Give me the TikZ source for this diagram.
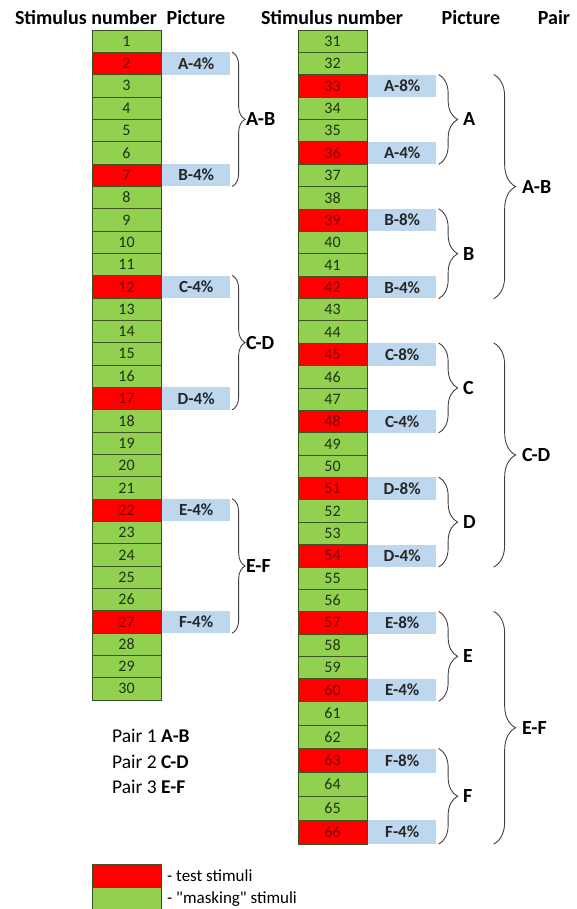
\documentclass[tikz,border=0pt]{standalone}
\usepackage{fontspec}
\setmainfont{Carlito}
\usetikzlibrary{decorations.pathreplacing}
\definecolor{cgreen}{HTML}{92D050}
\definecolor{cred}{HTML}{FF0000}
\definecolor{cblue}{HTML}{BDD7EE}
\definecolor{cline}{HTML}{3A5522}
\definecolor{tgreen}{HTML}{1F3312}
\definecolor{tred}{HTML}{7A0000}
\definecolor{bracec}{HTML}{404040}
\tikzset{
  cell/.style={draw=cline, line width=0.7pt, minimum width=69pt, inner sep=0pt, font=\fontsize{16}{16}\selectfont},
  greencell/.style={fill=cgreen, text=tgreen},
  redcell/.style={fill=cred, text=tred},
  pbox/.style={fill=cblue, minimum width=68.5pt, inner sep=0pt, anchor=west, font=\fontsize{17}{17}\selectfont\bfseries, text=black!85},
  hdr/.style={font=\fontsize{20}{20}\selectfont\bfseries, inner sep=0pt},
  brc/.style={draw=bracec, line width=0.9pt, decorate},
  blabel/.style={font=\fontsize{20}{20}\selectfont\bfseries, inner sep=0pt, anchor=west},
  plain/.style={font=\fontsize{19.5}{19.5}\selectfont, inner sep=0pt, anchor=west},
  legtxt/.style={font=\fontsize{17}{17}\selectfont, inner sep=0pt, anchor=west},
}
\begin{document}
\begin{tikzpicture}[x=1pt,y=-1pt]
\useasboundingbox (0,0) rectangle (577,909);
% headers
\node[hdr] (h1) at (86,18) {Stimulus number};
\node[hdr] (h2) at (196,18) {Picture};
\node[hdr] (h3) at (332,18) {Stimulus number};
\node[hdr] (h4) at (471,18) {Picture};
\node[hdr] (h5) at (554,18) {Pair};
% left column
\foreach \k in {1,...,30} {
  \pgfmathsetmacro\yc{30+(\k-0.5)*22.333}
  \pgfmathtruncatemacro\m{mod(\k+3,5)}
  \ifnum\m=0
    \node[cell, redcell, minimum height=22.333pt] (L\k) at (126.5,\yc) {\k};
  \else
    \node[cell, greencell, minimum height=22.333pt] (L\k) at (126.5,\yc) {\k};
  \fi
}
\foreach \k/\t in {2/A,7/B,12/C,17/D,22/E,27/F}
  \node[pbox, minimum height=22.333pt] (P\k) at ([xshift=0.4pt]L\k.east) {\t-4\%};
% right column
\foreach \n in {31,...,66} {
  \pgfmathsetmacro\j{\n-30}
  \pgfmathsetmacro\yc{ifthenelse(\j<=30, 30+(\j-0.5)*22.37, 701.1+(\j-30.5)*23.8)}
  \pgfmathsetmacro\hh{ifthenelse(\j<=30, 22.37, 23.8)}
  \pgfmathtruncatemacro\m{mod(\n,3)}
  \ifnum\n>32 \ifnum\m=0
    \node[cell, redcell, minimum height=\hh pt] (R\n) at (332.5,\yc) {\n};
  \else
    \node[cell, greencell, minimum height=\hh pt] (R\n) at (332.5,\yc) {\n};
  \fi\else
    \node[cell, greencell, minimum height=\hh pt] (R\n) at (332.5,\yc) {\n};
  \fi
}
\foreach \n/\t/\h in {33/A-8/22.37,36/A-4/22.37,39/B-8/22.37,42/B-4/22.37,45/C-8/22.37,48/C-4/22.37,51/D-8/22.37,54/D-4/22.37,57/E-8/22.37,60/E-4/22.37,63/F-8/23.8,66/F-4/23.8}
  \node[pbox, minimum height=\h pt] (Q\n) at ([xshift=0.4pt]R\n.east) {\t\%};
% left braces
\foreach \a/\b/\t in {2/7/A-B,12/17/C-D,22/27/E-F}
  \draw[brc, decoration={brace, amplitude=13pt}] ([xshift=1.5pt]P\a.north east) -- ([xshift=1.5pt]P\b.south east)
    node[blabel, midway, xshift=13.5pt] {\t};
% right inner braces
\foreach \a/\b/\t in {33/36/A,39/42/B,45/48/C,51/54/D,57/60/E,63/66/F}
  \draw[brc, decoration={brace, amplitude=19pt}] ([xshift=2pt]Q\a.north east) -- ([xshift=2pt]Q\b.south east)
    node[blabel, midway, xshift=24pt] {\t};
% right outer braces
\foreach \a/\b/\t in {33/42/A-B,45/54/C-D,57/66/E-F}
  \draw[brc, decoration={brace, amplitude=22pt}] ([xshift=57pt]Q\a.north east) -- ([xshift=57pt]Q\b.south east)
    node[blabel, midway, xshift=28pt] {\t};
% pairs
\node[plain] (pr1) at (112,736) {Pair 1 \textbf{A-B}};
\node[plain] (pr2) at (112,762) {Pair 2 \textbf{C-D}};
\node[plain] (pr3) at (112,787) {Pair 3 \textbf{E-F}};
% legend
\node[draw=cline, line width=0.7pt, fill=cred, minimum width=69pt, minimum height=23pt, inner sep=0pt] (lr) at (126.5,875.5) {};
\node[draw=cline, line width=0.7pt, fill=cgreen, minimum width=69pt, minimum height=23pt, inner sep=0pt] (lg) at (126.5,898.5) {};
\node[legtxt] (lt1) at (167,876) {- test stimuli};
\node[legtxt] (lt2) at (167,899) {\addfontfeature{Ligatures=TeXOff}- "masking" stimuli};
\end{tikzpicture}
\end{document}
